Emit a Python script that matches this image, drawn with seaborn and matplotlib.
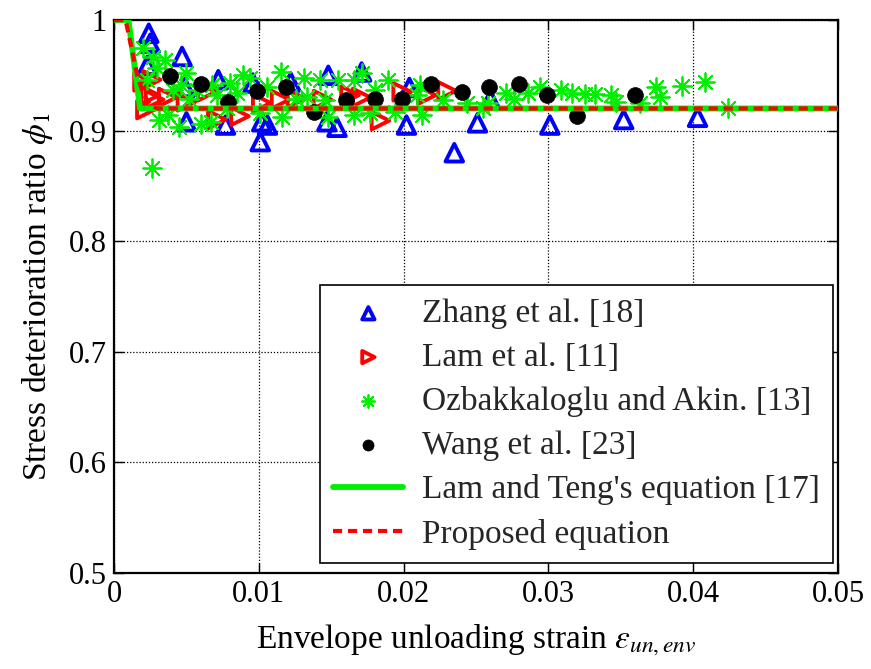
import numpy as np
import pandas as pd
import matplotlib
matplotlib.use("Agg")
import matplotlib.pyplot as plt
import seaborn as sns

# Zhang et al. [18]
zhang_x = [0.0024, 0.0025, 0.0023, 0.0047, 0.0049, 0.0050, 0.0072, 0.0077, 0.0096,
           0.0101, 0.0102, 0.0106, 0.0122, 0.0148, 0.0147, 0.0154, 0.0171, 0.0204,
           0.0202, 0.0235, 0.0251, 0.0260, 0.0301, 0.0352, 0.0403]
zhang_y = [0.988, 0.979, 0.959, 0.967, 0.939, 0.908, 0.946, 0.905, 0.943,
           0.890, 0.908, 0.905, 0.944, 0.950, 0.908, 0.903, 0.953, 0.939,
           0.905, 0.880, 0.907, 0.928, 0.905, 0.910, 0.912]

# Lam et al. [11]
lam_x = [0.0020, 0.0022, 0.0025, 0.0026, 0.0028, 0.0037, 0.0050, 0.0064, 0.0071,
         0.0087, 0.0102, 0.0115, 0.0126, 0.0144, 0.0163, 0.0171, 0.0184, 0.0199,
         0.0216, 0.0230]
lam_y = [0.944, 0.919, 0.932, 0.946, 0.928, 0.930, 0.926, 0.935, 0.910,
         0.913, 0.925, 0.928, 0.929, 0.928, 0.932, 0.930, 0.909, 0.935,
         0.932, 0.936]

# Ozbakkaloglu and Akin. [13]
ozb_x = [0.0020, 0.0027, 0.0035, 0.0030, 0.0050, 0.0046, 0.0041, 0.0023, 0.0031,
         0.0037, 0.0045, 0.0052, 0.0060, 0.0067, 0.0068, 0.0071, 0.0080, 0.0085,
         0.0089, 0.0094, 0.0106, 0.0115, 0.0131, 0.0133, 0.0142, 0.0155, 0.0166,
         0.0171, 0.0189, 0.0180, 0.0101, 0.0116, 0.0078, 0.0148, 0.0166, 0.0177,
         0.0194, 0.0209, 0.0213, 0.0146, 0.0211, 0.0227, 0.0244, 0.0258, 0.0271,
         0.0276, 0.0286, 0.0294, 0.0309, 0.0316, 0.0325, 0.0332, 0.0343, 0.0347,
         0.0363, 0.0374, 0.0377, 0.0392, 0.0408, 0.0424, 0.0026, 0.0255, 0.0057,
         0.0126]
ozb_y = [0.975, 0.967, 0.964, 0.957, 0.952, 0.941, 0.937, 0.946, 0.910,
         0.914, 0.903, 0.929, 0.906, 0.908, 0.941, 0.932, 0.943, 0.934,
         0.950, 0.948, 0.939, 0.953, 0.948, 0.930, 0.946, 0.946, 0.946,
         0.952, 0.946, 0.937, 0.916, 0.912, 0.920, 0.912, 0.914, 0.916,
         0.917, 0.932, 0.914, 0.928, 0.941, 0.928, 0.925, 0.925, 0.934,
         0.929, 0.934, 0.939, 0.937, 0.934, 0.933, 0.933, 0.932, 0.926,
         0.925, 0.939, 0.930, 0.940, 0.944, 0.920, 0.866, 0.920, 0.937,
         0.929]

# Wang et al. [23]
wang_x = [0.0039, 0.0060, 0.0079, 0.0099, 0.0119, 0.0138, 0.0160, 0.0180,
          0.0199, 0.0219, 0.0240, 0.0259, 0.0280, 0.0299, 0.0320, 0.0360]
wang_y = [0.949, 0.942, 0.926, 0.936, 0.939, 0.917, 0.928, 0.929,
          0.929, 0.942, 0.935, 0.939, 0.942, 0.932, 0.913, 0.932]

# Lam and Teng's equation [17]
lt_x = [0.0, 0.001, 0.0018, 0.05]
lt_y = [1.0, 1.0, 0.92, 0.92]

# Proposed equation
prop_x = [0.0, 0.0008, 0.0012, 0.0016, 0.0020, 0.0025, 0.0030, 0.05]
prop_y = [1.0, 1.0, 0.975, 0.950, 0.934, 0.923, 0.920, 0.92]

x_ticks = [0, 0.01, 0.02, 0.03, 0.04, 0.05]
x_tick_labels = ["0", "0.01", "0.02", "0.03", "0.04", "0.05"]
y_ticks = [0.5, 0.6, 0.7, 0.8, 0.9, 1.0]
y_tick_labels = ["0.5", "0.6", "0.7", "0.8", "0.9", "1"]

sns.set_theme(style="white")
plt.rcParams["font.family"] = ["Liberation Serif", "DejaVu Serif"]
plt.rcParams["mathtext.fontset"] = "stix"

fig = plt.figure(figsize=(8.71, 6.69), dpi=100)
ax = fig.add_axes([0.1309, 0.1435, 0.8312, 0.8266])

ast = (8, 2, 0)

sns.scatterplot(x=zhang_x, y=zhang_y, ax=ax, marker="^", s=160,
                facecolor="none", edgecolor="#0000ff", linewidth=2.8,
                label="Zhang et al. [18]", zorder=3)
sns.scatterplot(x=lam_x, y=lam_y, ax=ax, marker=">", s=160,
                facecolor="none", edgecolor="#ff0000", linewidth=2.8,
                label="Lam et al. [11]", zorder=3)
sns.scatterplot(x=ozb_x, y=ozb_y, ax=ax, marker=ast, s=180,
                color="#00ee00", edgecolor="#00ee00", linewidth=1.3,
                label="Ozbakkaloglu and Akin. [13]", zorder=3)
sns.scatterplot(x=wang_x, y=wang_y, ax=ax, marker="o", s=130,
                color="black", edgecolor="black", linewidth=0.5,
                label="Wang et al. [23]", zorder=3)

sns.lineplot(x=lt_x, y=lt_y, ax=ax, color="#00ee00", linewidth=4.2,
             label="Lam and Teng's equation [17]", zorder=4, sort=False)
sns.lineplot(x=prop_x, y=prop_y, ax=ax, color="#ff0000", linewidth=3.0,
             linestyle=(0, (2.2, 1.4)),
             label="Proposed equation", zorder=5, sort=False)

ax.set_xlim(0, 0.05)
ax.set_ylim(0.5, 1.0)
ax.set_xticks(x_ticks)
ax.set_xticklabels(x_tick_labels)
ax.set_yticks(y_ticks)
ax.set_yticklabels(y_tick_labels)
ax.tick_params(axis="both", which="both", direction="in", length=7, width=1,
               labelsize=22, color="black", labelcolor="black",
               top=True, right=True, bottom=True, left=True, pad=5)
ax.grid(True, color="black", linestyle=(0, (1, 1.5)), linewidth=0.9)
for sp in ax.spines.values():
    sp.set_visible(True)
    sp.set_color("black")
    sp.set_linewidth(1.6)

ax.set_xlabel(r"Envelope unloading strain $\varepsilon_{un,env}$", fontsize=24,
              color="black", labelpad=10)
ax.set_ylabel(r"Stress deterioration ratio $\phi_1$", fontsize=24,
              color="black", labelpad=10)

handles, labels = ax.get_legend_handles_labels()
leg = ax.legend(handles, labels, loc="lower right", bbox_to_anchor=(0.993, 0.018),
                fontsize=24, frameon=True, fancybox=False, edgecolor="black",
                framealpha=1, handlelength=2.1, handletextpad=0.55,
                labelspacing=0.4, borderpad=0.4, borderaxespad=0.0,
                markerscale=0.7)
leg.get_frame().set_linewidth(1.2)
leg.set_zorder(10)

fig.savefig("out.png", dpi=100, facecolor="white")
